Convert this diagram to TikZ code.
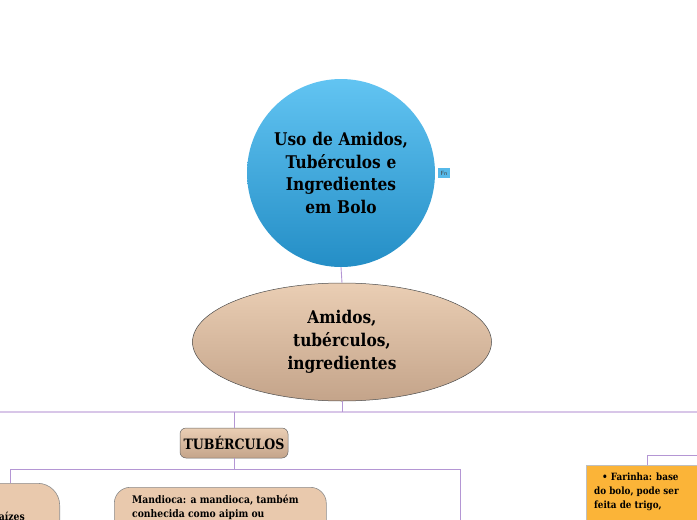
\documentclass[tikz,border=0pt]{standalone}
\usepackage{fontspec}
\setmainfont{DejaVu Serif}[FakeStretch=0.88]
\usetikzlibrary{shapes.geometric}
\definecolor{linep}{RGB}{180,150,212}
\definecolor{linel}{RGB}{216,198,232}
\definecolor{tanT}{RGB}{234,206,180}
\definecolor{tanB}{RGB}{196,164,138}
\definecolor{tanF}{RGB}{233,201,173}
\definecolor{skyT}{RGB}{98,196,242}
\definecolor{skyB}{RGB}{36,142,198}
\definecolor{orangeF}{RGB}{251,180,56}
\tikzset{
  conn/.style={draw=linep, line width=0.9pt},
  connl/.style={draw=linel, line width=1.3pt},
  tanbox/.style={fill=tanF, draw=black!45, line width=0.6pt},
  bodytxt/.style={font=\bfseries\fontsize{10.5}{14}\selectfont, align=left, inner sep=0pt},
}
\begin{document}
\begin{tikzpicture}[x=1pt,y=-1pt]
\useasboundingbox (0,0) rectangle (697,520);
\clip (0,0) rectangle (697,520);

% root circle
\node[circle, minimum size=188pt, inner sep=0pt, top color=skyT, bottom color=skyB,
      text width=150pt, align=center,
      font=\bfseries\fontsize{17.5}{22.5}\selectfont] (root) at (341,173)
  {Uso de Amidos,\\Tubérculos e\\Ingredientes\\em Bolo};

% Fn badge
\node[fill=skyT!80!skyB, inner sep=0pt, minimum width=12pt, minimum height=10pt,
      font=\sffamily\fontsize{6}{6}\selectfont, text=black!75] (fn) at (444,173) {Fn};

% main ellipse
\node[ellipse, minimum width=299pt, minimum height=118pt, inner sep=0pt,
      top color=tanT, bottom color=tanB, draw=black!70, line width=0.5pt,
      align=center, font=\bfseries\fontsize{17.5}{23}\selectfont] (main) at (342,342)
  {Amidos,\\tubérculos,\\ingredientes};

% TUBERCULOS
\node[rounded corners=6pt, minimum width=108pt, minimum height=30pt, inner sep=0pt,
      top color=tanT, bottom color=tanB, draw=black!60, line width=0.5pt,
      font=\bfseries\fontsize{14.3}{14}\selectfont] (tub) at (234,443) {TUBÉRCULOS};

% buses
\coordinate (busL) at (0,412);
\coordinate (busR) at (697,412);
\coordinate (bus2L) at (10,469);
\coordinate (bus2R) at (460,469);
\coordinate (bus2E) at (460,520);
\coordinate (busO) at (697,455);

% left partial node
\node[tanbox, rounded corners=22pt, minimum width=130pt, minimum height=70pt,
      anchor=north east, inner sep=0pt] (left) at (60,483) {};
\node[bodytxt, anchor=base east] (leftt) at (25,520) {raízes};

% Mandioca node
\node[tanbox, rounded corners=16pt, minimum width=212pt, minimum height=70pt,
      anchor=north west, inner sep=0pt] (mand) at (114,487) {};
\node[bodytxt, anchor=north west] (mandt) at (132,495)
  {Mandioca: a mandioca, também\\conhecida como aipim ou};

% orange node
\node[fill=orangeF, draw=black!25, line width=0.5pt, minimum width=130pt,
      minimum height=80pt, anchor=north west, inner sep=0pt] (orange) at (586,465) {};
\node[font=\bfseries\fontsize{10}{14}\selectfont, align=left, inner sep=0pt,
      anchor=north west] (fart) at (594,473)
  {\hspace*{8pt}• Farinha: base\\do bolo, pode ser\\feita de trigo,};

% connectors
\draw[connl] (busL) -- (busR);
\draw[conn] (root.south) -- (main.north);
\draw[conn] (main.south) -- (main.south |- busL);
\draw[conn] (tub.north) -- (tub.north |- busL);
\draw[conn] (tub.south) -- (tub.south |- bus2L);
\draw[conn] (bus2L) -- (bus2R);
\draw[conn] (bus2L) -- (left.north -| bus2L);
\draw[conn] (bus2R) -- (bus2E);
\draw[conn] (orange.north -| 647,0) -- (busO -| 647,0) -- (busO);
\end{tikzpicture}
\end{document}
